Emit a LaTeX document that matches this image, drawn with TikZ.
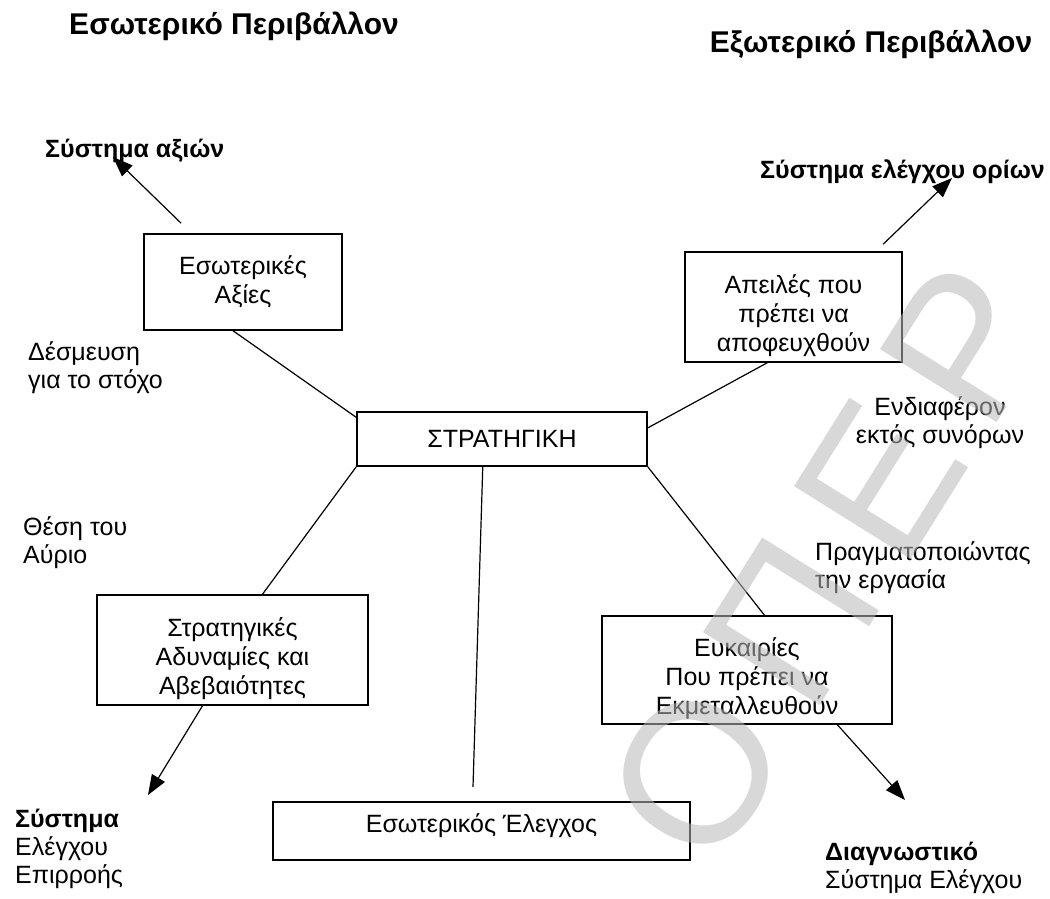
\documentclass[tikz,border=0pt]{standalone}
\usepackage{fontspec}
\setmainfont{Liberation Sans}
\usetikzlibrary{arrows.meta,calc}
\definecolor{wmgray}{gray}{0.72}
\begin{document}
\begin{tikzpicture}[x=1pt,y=-1pt,
  box/.style={draw, line width=1.5pt, align=center, inner sep=0pt,
    font=\fontsize{25}{29}\selectfont},
  threeline/.style={text height=94pt, text depth=6pt},
  lbl/.style={align=left, inner sep=0pt, anchor=base west,
    font=\fontsize{25}{28}\selectfont},
  boldlbl/.style={lbl, font=\fontsize{25}{28}\selectfont\bfseries},
  heading/.style={inner sep=0pt, anchor=base,
    font=\fontsize{30}{36}\selectfont\bfseries},
  link/.style={line width=1.2pt},
  arr/.style={line width=1.2pt, -{Triangle[length=20pt,width=15pt]}},
  wmark/.style={inner sep=0pt, text=wmgray, text opacity=0.55,
    font=\fontsize{200}{200}\selectfont}
]
\useasboundingbox (0,0) rectangle (1050,899);

% headings
\node[heading] (tin) at (234,35) {Εσωτερικό Περιβάλλον};
\node[heading] (tex) at (871,53) {Εξωτερικό Περιβάλλον};

% control systems named at the ends of the arrows
\node[boldlbl] (valsys) at (45,157) {Σύστημα αξιών};
\node[boldlbl] (bndsys) at (760,178) {Σύστημα ελέγχου ορίων};

% boxes
\node[box, minimum width=198pt, minimum height=96pt] (vals) at (243,282) {Εσωτερικές\\Αξίες};
\node[box, threeline, minimum width=217pt, minimum height=110pt] (threat) at (793.5,307) {Απειλές που\\πρέπει να\\αποφευχθούν};
\node[box, minimum width=290pt, minimum height=54pt] (strat) at (502,439) {ΣΤΡΑΤΗΓΙΚΗ};
\node[box, threeline, minimum width=271pt, minimum height=110pt] (weak) at (232.5,650) {Στρατηγικές\\Αδυναμίες και\\Αβεβαιότητες};
\node[box, threeline, minimum width=290pt, minimum height=108pt] (opp) at (747,670) {Ευκαιρίες\\Που πρέπει να\\Εκμεταλλευθούν};
\node[box, minimum width=417pt, minimum height=58pt, text height=18pt, text depth=16pt] (ictrl) at (481.5,831) {Εσωτερικός Έλεγχος};

% side labels (placed by the baseline of their last line)
\node[lbl] (commit) at (28,388) {Δέσμευση\\για το στόχο};
\node[lbl] (tomorrow) at (23,563) {Θέση του\\Αύριο};
\node[lbl, align=center, anchor=base] (beyond) at (940,443) {Ενδιαφέρον\\εκτός συνόρων};
\node[lbl] (work) at (815,588) {Πραγματοποιώντας\\την εργασία};
\node[lbl] (infl) at (15,883) {\textbf{Σύστημα}\\Ελέγχου\\Επιρροής};
\node[lbl] (diag) at (825,888) {\textbf{Διαγνωστικό}\\Σύστημα Ελέγχου};

% links between the strategy and the four boxes
\draw[link] ($(vals.south west)!0.45!(vals.south east)$) -- ($(strat.north west)!0.11!(strat.south west)$);
\draw[link] ($(strat.north east)!0.3!(strat.south east)$) -- ($(threat.south west)!0.38!(threat.south east)$);
\draw[link] (strat.south west) -- ($(weak.north west)!0.61!(weak.north east)$);
\draw[link] (strat.south east) -- ($(opp.north west)!0.56!(opp.north east)$);
\coordinate (stub) at (473,787);
\draw[link] ($(strat.south west)!0.434!(strat.south east)$) -- (stub);

% arrows to the control systems
\coordinate (valtip) at (113,157);
\coordinate (bndtip) at (952,178);
\coordinate (infltip) at (148,795);
\coordinate (diagtip) at (905,800);
\draw[arr] ($(vals.north west)!0.19!(vals.north east)+(0,-10)$) -- (valtip);
\draw[arr] ($(threat.north west)!0.91!(threat.north east)+(0,-7)$) -- (bndtip);
\draw[arr] ($(weak.south west)!0.39!(weak.south east)$) -- (infltip);
\draw[arr] ($(opp.south west)!0.81!(opp.south east)$) -- (diagtip);

% watermark
\node[wmark, rotate=58] (wm) at (828,563) {Ο\hspace{28pt}Π\hspace{28pt}Ε\hspace{28pt}Ρ};
\end{tikzpicture}
\end{document}
